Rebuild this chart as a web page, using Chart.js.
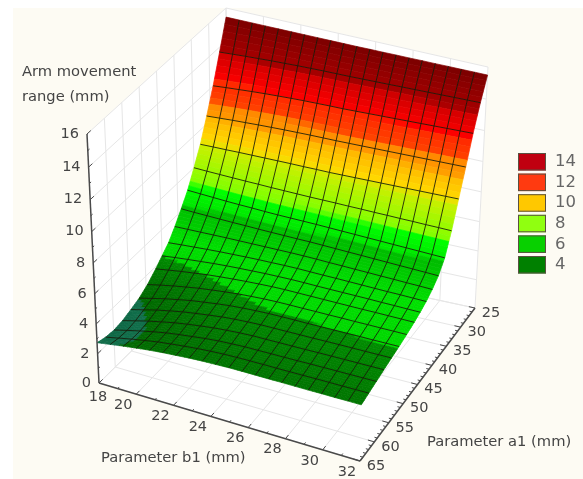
<!DOCTYPE html>
<html><head><meta charset="utf-8">
<style>html,body{margin:0;padding:0;background:#fff}canvas{display:block;filter:blur(0.45px)}</style>
<script src="https://cdn.jsdelivr.net/npm/chart.js@4/dist/chart.umd.min.js"></script>
</head><body><canvas id="c" width="583" height="479"></canvas>
<script>
// ---- data ----
const bValues=[18,18.7,19.4,20.1,20.8,21.5,22.2,22.9,23.6,24.3,25,25.7,26.4,27.1,27.8,28.5,29.2,29.9,30.6,31.3,32];
const aValues=[65,62.43,59.86,57.29,54.71,52.14,49.57,47,45,43,41,39,37,35,33,31,29,27,25];
const z00=[2.75,2.89,3.03,3.15,3.26,3.35,3.42,3.49,3.54,3.57,3.60,3.61,3.61,3.61,3.62,3.62,3.62,3.63,3.63,3.64,3.64];
const z01=[2.57,2.76,2.94,3.10,3.25,3.36,3.46,3.55,3.62,3.67,3.70,3.71,3.72,3.72,3.73,3.74,3.75,3.76,3.76,3.77,3.78];
const z02=[2.50,2.72,2.93,3.12,3.29,3.42,3.53,3.64,3.72,3.77,3.81,3.82,3.83,3.84,3.85,3.87,3.88,3.89,3.90,3.91,3.92];
const z03=[2.58,2.81,3.03,3.22,3.40,3.54,3.66,3.77,3.85,3.91,3.95,3.96,3.97,3.98,3.99,4.01,4.02,4.03,4.04,4.05,4.06];
const z04=[2.77,2.99,3.21,3.39,3.56,3.69,3.81,3.92,4.00,4.05,4.09,4.10,4.11,4.12,4.13,4.15,4.16,4.17,4.18,4.19,4.20];
const z05=[2.99,3.20,3.41,3.58,3.75,3.87,3.99,4.09,4.16,4.21,4.25,4.26,4.27,4.27,4.28,4.29,4.30,4.31,4.31,4.32,4.33];
const z06=[3.35,3.54,3.71,3.86,4.00,4.11,4.21,4.30,4.36,4.41,4.44,4.45,4.45,4.46,4.46,4.47,4.47,4.48,4.48,4.49,4.49];
const z07=[3.85,3.99,4.12,4.23,4.34,4.42,4.49,4.55,4.60,4.64,4.66,4.66,4.66,4.66,4.66,4.66,4.66,4.67,4.67,4.67,4.67];
const z08=[4.30,4.40,4.49,4.57,4.65,4.71,4.76,4.80,4.84,4.86,4.88,4.88,4.87,4.87,4.87,4.87,4.87,4.86,4.86,4.85,4.85];
const z09=[4.75,4.82,4.88,4.94,4.99,5.03,5.07,5.10,5.12,5.14,5.15,5.14,5.13,5.13,5.12,5.11,5.10,5.09,5.09,5.08,5.07];
const z10=[5.40,5.42,5.44,5.46,5.48,5.49,5.50,5.51,5.52,5.53,5.53,5.52,5.50,5.49,5.47,5.46,5.44,5.43,5.41,5.40,5.38];
const z11=[6.15,6.12,6.10,6.08,6.06,6.05,6.03,6.02,6.01,6.00,6.00,5.98,5.96,5.94,5.92,5.90,5.88,5.86,5.84,5.82,5.80];
const z12=[6.95,6.91,6.87,6.83,6.80,6.78,6.75,6.73,6.72,6.71,6.70,6.68,6.66,6.64,6.62,6.60,6.58,6.56,6.54,6.52,6.50];
const z13=[8.00,7.97,7.95,7.93,7.91,7.90,7.88,7.87,7.86,7.85,7.85,7.85,7.84,7.84,7.83,7.83,7.82,7.82,7.81,7.81,7.80];
const z14=[9.10,9.12,9.13,9.15,9.16,9.17,9.18,9.19,9.19,9.20,9.20,9.22,9.24,9.26,9.28,9.30,9.32,9.34,9.36,9.38,9.40];
const z15=[10.50,10.55,10.60,10.64,10.68,10.71,10.74,10.76,10.78,10.79,10.80,10.82,10.84,10.86,10.88,10.90,10.92,10.94,10.96,10.98,11.00];
const z16=[12.00,12.07,12.13,12.19,12.24,12.28,12.32,12.35,12.37,12.39,12.40,12.43,12.46,12.49,12.52,12.55,12.58,12.61,12.64,12.67,12.70];
const z17=[13.70,13.75,13.80,13.84,13.88,13.91,13.94,13.96,13.98,13.99,14.00,14.02,14.04,14.06,14.08,14.10,14.12,14.14,14.16,14.18,14.20];
const z18=[15.45,15.45,15.45,15.45,15.45,15.45,15.45,15.45,15.45,15.45,15.45,15.46,15.46,15.47,15.47,15.48,15.48,15.49,15.49,15.50,15.50];
const zRows=[z00,z01,z02,z03,z04,z05,z06,z07,z08,z09,z10,z11,z12,z13,z14,z15,z16,z17,z18];
const zTicks=[0,2,4,6,8,10,12,14,16];
const bTicks=[18,20,22,24,26,28,30,32];
const aTicks=[25,30,35,40,45,50,55,60,65];
const legendLabels=['14','12','10','8','6','4'];
const legendColors=['#c00010','#ff3a10','#ffc800','#90ff10','#08d000','#008000'];

// ---- colours along z ----
const stops=[[2,'#0c5c3c'],[2.99,'#11704c'],[3.0,'#006800'],[3.6,'#007400'],[4.29,'#008c00'],[4.30,'#00d800'],[5.0,'#00e000'],[5.6,'#00cc00'],[6.3,'#00bc00'],[6.35,'#00e800'],[7.2,'#00ff00'],[7.3,'#80ff00'],[9.0,'#c8f000'],[9.4,'#ffd800'],[10.4,'#ffb800'],[10.5,'#ff9c00'],[11.2,'#ff8800'],[11.3,'#ff4400'],[12.3,'#ff2800'],[12.4,'#ff0000'],[13.6,'#d00000'],[13.7,'#a80000'],[15.5,'#7a0000']];
function rgb(h){return [1,3,5].map(k=>parseInt(h.substr(k,2),16));}
function colorOf(z){
  if(z<=stops[0][0])return stops[0][1];
  for(let k=1;k<stops.length;k++){if(z<=stops[k][0]){
    const w=(z-stops[k-1][0])/(stops[k][0]-stops[k-1][0]),A=rgb(stops[k-1][1]),B=rgb(stops[k][1]);
    return 'rgb('+A.map((v,n)=>Math.round(v+(B[n]-v)*w)).join(',')+')';}}
  return stops[stops.length-1][1];
}

// ---- 3D box projection (box corners in the chart's data space) ----
const F00=[99,383],F10=[360,461],F11=[475,308],F01=[229,255];
const T00=[87,134],T10=[366,200],T11=[488,67],T01=[226,8];
function project(b,a,z){
  const f=(b-18)/14,t=(65-a)/40,s=z/16,u=s/(1+0.075*(1-s));
  const mix=n=>{
    const fl=(F00[n]*(1-f)+F10[n]*f)*(1-t)+(F01[n]*(1-f)+F11[n]*f)*t;
    const tp=(T00[n]*(1-f)+T10[n]*f)*(1-t)+(T01[n]*(1-f)+T11[n]*f)*t;
    return fl*(1-u)+tp*u;};
  return {x:mix(0),y:mix(1)};
}

// ---- datasets, listed back to front then reversed ----
const sets=[];
function poly(pts,color,bw){sets.push({data:[...pts,pts[0]],showLine:true,fill:'shape',backgroundColor:color,borderColor:color,borderWidth:bw===undefined?0.7:bw,pointRadius:0,tension:0,clip:false});}
function line(pts,color,w){sets.push({data:pts,showLine:true,fill:false,borderColor:color,borderWidth:w,pointRadius:0,tension:0,clip:false});}

// walls and floor
poly([project(18,65,0),project(18,25,0),project(18,25,16),project(18,65,16)],'#ffffff');
poly([project(18,25,0),project(32,25,0),project(32,25,16),project(18,25,16)],'#ffffff');
poly([project(18,65,0),project(32,65,0),project(32,25,0),project(18,25,0)],'#ffffff');
const gridC='#e6e6e6';
zTicks.forEach(z=>{line([project(18,65,z),project(18,25,z),project(32,25,z)],gridC,1);});
aTicks.forEach(a=>{line([project(18,a,16),project(18,a,0),project(32,a,0)],gridC,1);});
bTicks.forEach(b=>{line([project(b,25,16),project(b,25,0),project(b,65,0)],gridC,1);});

// surface
const nA=5;
for(let i=aValues.length-2;i>=0;i--){
  const nB=i<10?3:1;
  for(let sa=nA-1;sa>=0;sa--){
    for(let j=0;j<bValues.length-1;j++){
      for(let sb=0;sb<nB;sb++){
        const v=(p,q)=>{const A=(sa+p)/nA,B=(sb+q)/nB;
          const z=(zRows[i][j]*(1-B)+zRows[i][j+1]*B)*(1-A)+(zRows[i+1][j]*(1-B)+zRows[i+1][j+1]*B)*A;
          return [bValues[j]+(bValues[j+1]-bValues[j])*B,aValues[i]+(aValues[i+1]-aValues[i])*A,z];};
        const c=v(.5,.5);
        poly([project(...v(0,0)),project(...v(1,0)),project(...v(1,1)),project(...v(0,1))],colorOf(c[2]));
      }
    }
  }
}
// mesh lines
const meshC='rgba(22,26,8,0.85)';
for(let i=1;i<aValues.length-1;i++)line(bValues.map((b,j)=>project(b,aValues[i],zRows[i][j])),meshC,1);
for(let j=1;j<bValues.length-1;j++)line(aValues.map((a,i)=>project(bValues[j],a,zRows[i][j])),meshC,1);

// axes
const axC='#4a4a4a';
line([project(18,65,0),project(18,65,16)],axC,1.5);
line([project(18,65,0),project(32,65,0)],axC,1.5);
line([project(32,65,0),project(32,25,0)],axC,1.5);
for(let z=0;z<=16;z++)line([project(18,65,z),project(18,65-(z%2?0.5:1.1),z)],axC,1);
for(let b=18;b<=32;b++)line([project(b,65,0),project(b,65-(b%2?0.5:1),0)],axC,1);
for(let a=25;a<=65;a++)line([project(32,a,0),project(32-(a%5?0.15:0.35),a,0)],axC,1);
sets.reverse();

// ---- text, legend, background ----
const fam='"DejaVu Sans",Verdana,sans-serif';
const decor={id:'decor',
  beforeDraw(ch){const g=ch.ctx;g.save();g.fillStyle='#fff';g.fillRect(0,0,583,479);g.fillStyle='#fdfbf3';g.fillRect(13,8,570,471);g.restore();},
  afterDraw(ch){
    const g=ch.ctx,X=ch.scales.x,Y=ch.scales.y;
    const px=p=>[X.getPixelForValue(p.x),Y.getPixelForValue(p.y)];
    g.save();g.textBaseline='middle';g.fillStyle='#444';
    g.font='14.5px '+fam;
    g.textAlign='right';
    zTicks.forEach(z=>{const [x,y]=px(project(18,65,z));g.fillText(String(z),x-8,y);});
    g.textAlign='center';
    bTicks.forEach(b=>{const [x,y]=px(project(b,65,0));if(b===18)g.fillText(String(b),x-1,y+14);else g.fillText(String(b),x-13,y+11);});
    aTicks.forEach(a=>{const [x,y]=px(project(32,a,0));g.fillText(String(a),x+16,y+5);});
    g.font='14.7px '+fam;g.textAlign='left';
    g.fillText('Arm movement',22,72);
    g.fillText('range (mm)',22,97);
    g.fillText('Parameter b1 (mm)',101,458);
    g.fillText('Parameter a1 (mm)',427,442);
    legendLabels.forEach((l,k)=>{
      const top=153+k*20.6;
      g.fillStyle=legendColors[k];g.fillRect(518,top,28,17.5);
      g.strokeStyle='#5a5040';g.lineWidth=1;g.strokeRect(518.5,top+.5,27,16.5);
      g.fillStyle='#666';g.font='16.5px '+fam;g.fillText(l,555,top+9);
    });
    g.restore();
  }};

new Chart(document.getElementById('c'),{type:'scatter',data:{datasets:sets},plugins:[decor],options:{
  responsive:false,animation:false,events:[],layout:{padding:0},
  plugins:{legend:{display:false},tooltip:{enabled:false}},
  scales:{x:{type:'linear',min:0,max:583,display:false},y:{type:'linear',min:0,max:479,reverse:true,display:false}}
}});
</script></body></html>
